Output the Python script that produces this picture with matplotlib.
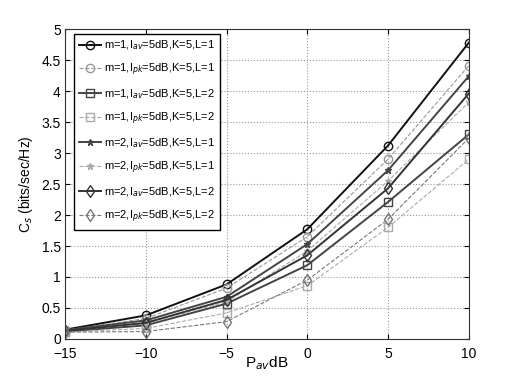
"""Secrecy capacity vs average power"""
import matplotlib
matplotlib.use("Agg")
import matplotlib.pyplot as plt

plt.rcParams['font.family'] = ['Liberation Sans', 'DejaVu Sans']

p_av = [-15, -10, -5, 0, 5, 10]

m1_av_l1 = [0.15, 0.38, 0.88, 1.77, 3.12, 4.78]
m1_pk_l1 = [0.14, 0.33, 0.82, 1.65, 2.90, 4.41]
m1_av_l2 = [0.12, 0.22, 0.57, 1.19, 2.21, 3.30]
m1_pk_l2 = [0.11, 0.17, 0.42, 0.86, 1.80, 2.90]
m2_av_l1 = [0.14, 0.30, 0.68, 1.53, 2.72, 4.24]
m2_pk_l1 = [0.13, 0.25, 0.60, 1.42, 2.55, 3.82]
m2_av_l2 = [0.13, 0.26, 0.63, 1.35, 2.43, 3.96]
m2_pk_l2 = [0.11, 0.12, 0.28, 0.95, 1.93, 3.24]

labels = [
    r'm=1,I$_{av}$=5dB,K=5,L=1', r'm=1,I$_{pk}$=5dB,K=5,L=1',
    r'm=1,I$_{av}$=5dB,K=5,L=2', r'm=1,I$_{pk}$=5dB,K=5,L=2',
    r'm=2,I$_{av}$=5dB,K=5,L=1', r'm=2,I$_{pk}$=5dB,K=5,L=1',
    r'm=2,I$_{av}$=5dB,K=5,L=2', r'm=2,I$_{pk}$=5dB,K=5,L=2',
]
series = [m1_av_l1, m1_pk_l1, m1_av_l2, m1_pk_l2,
          m2_av_l1, m2_pk_l1, m2_av_l2, m2_pk_l2]
markers = ['o', 'o', 's', 's', '*', '*', 'd', 'd']
styles = ['-', '--', '-', '--', '-', '--', '-', '--']
colors = ['#111111', '#999999', '#444444', '#aaaaaa',
          '#444444', '#aaaaaa', '#333333', '#777777']

fig = plt.figure(figsize=(5.18, 3.82), dpi=100)
ax = fig.add_axes([0.1255, 0.1126, 0.7795, 0.8114])

for y, lab, mk, ls, c in zip(series, labels, markers, styles, colors):
    lw = 1.4 if ls == '-' else 0.8
    ax.plot(p_av, y, linestyle=ls, marker=mk, color=c, linewidth=lw,
            markersize=6 if mk != '*' else 5, markerfacecolor='none' if mk != '*' else c,
            markeredgewidth=1.0, label=lab)

ax.set_xlim(-15, 10)
ax.set_ylim(0, 5)
ax.set_xticks([-15, -10, -5, 0, 5, 10])
ax.set_yticks([0, 0.5, 1, 1.5, 2, 2.5, 3, 3.5, 4, 4.5, 5])
ax.set_yticklabels(['0', '0.5', '1', '1.5', '2', '2.5', '3', '3.5', '4', '4.5', '5'])
ax.tick_params(direction='in', top=True, right=True, labelsize=10)
ax.tick_params(axis='x', pad=6)
ax.tick_params(axis='y', pad=3)
ax.grid(True, linestyle=':', color='#999999', linewidth=0.8)
for s in ax.spines.values():
    s.set_color('#333333')

ax.set_xlabel(r'P$_{av}$dB', fontsize=11)
ax.xaxis.set_label_coords(0.5, -0.05)
ax.set_ylabel(r'C$_s$ (bits/sec/Hz)', fontsize=10)
ax.yaxis.set_label_coords(-0.075, 0.5)

leg = ax.legend(loc='upper left', bbox_to_anchor=(0.022, 0.985), fontsize=8,
                fancybox=False, edgecolor='black', framealpha=1,
                handlelength=2.0, borderpad=0.45, labelspacing=0.85,
                handletextpad=0.3, borderaxespad=0)
leg.get_frame().set_linewidth(1.0)

fig.savefig('out.png', dpi=100)
